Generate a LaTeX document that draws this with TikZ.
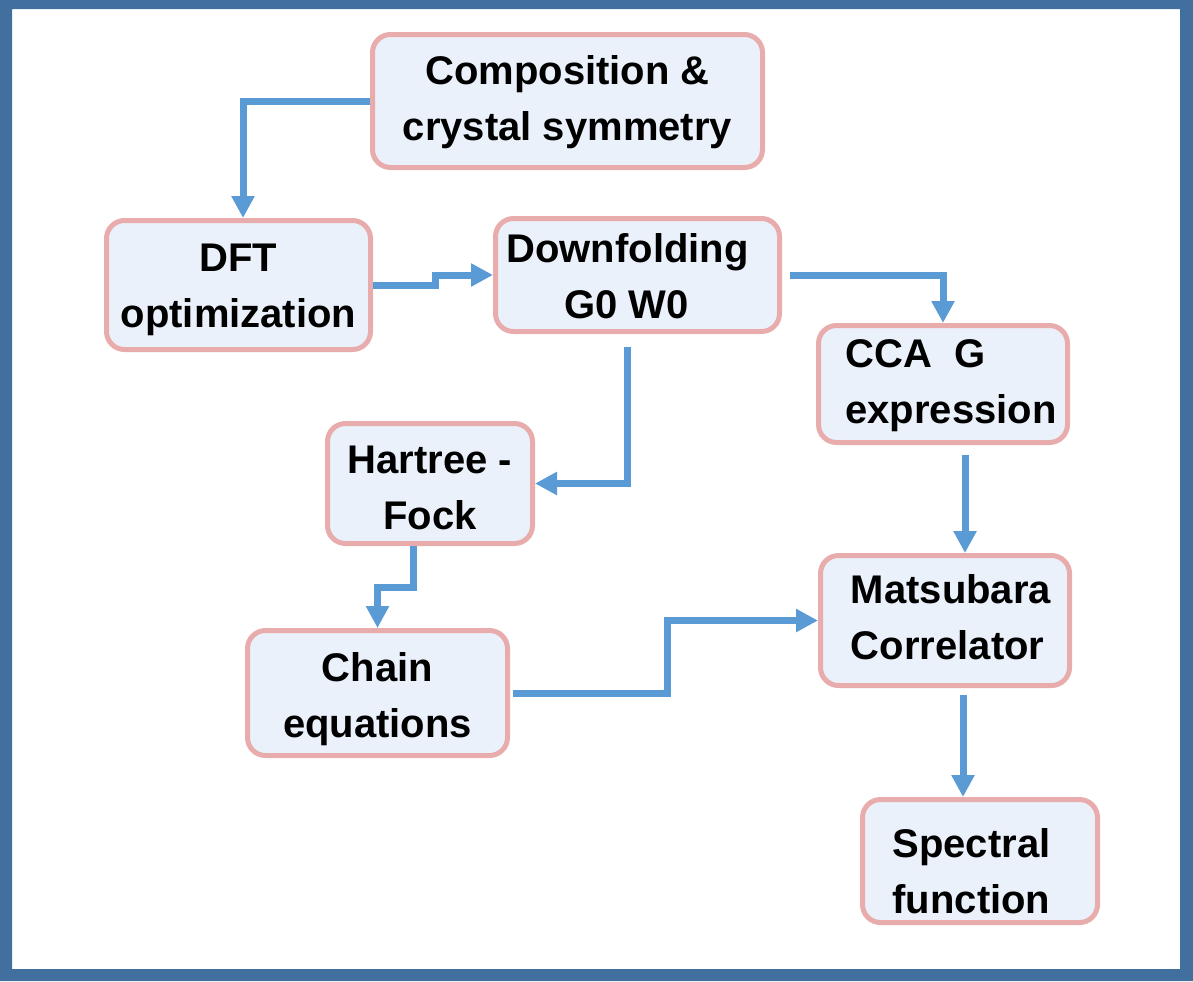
\documentclass[tikz,border=0pt]{standalone}
\usepackage{fontspec}
\setmainfont{Liberation Sans}
\usetikzlibrary{arrows.meta}
\definecolor{framecol}{RGB}{65,112,159}
\definecolor{flowcol}{RGB}{91,155,213}
\definecolor{boxfill}{RGB}{234,241,250}
\definecolor{boxline}{RGB}{232,172,172}
\begin{document}
\begin{tikzpicture}[x=0.5pt, y=-0.5pt,
    box/.style={draw=boxline, fill=boxfill, line width=2.5pt, rounded corners=9pt,
        font=\fontsize{20}{28}\selectfont\bfseries, align=center, inner sep=0pt},
    flow/.style={draw=flowcol, line width=3.5pt, -{Triangle[width=11pt,length=11pt]}}]
        \useasboundingbox (0,0) rectangle (1193,981);
        \fill[framecol, even odd rule] (0,0) rectangle (1193,981) (12,9) rectangle (1180,969);

        \node[box, minimum width=195pt, minimum height=66.5pt] (comp) at (567.5, 101)
            {\rule{0pt}{19.4pt}Composition \&\\crystal symmetry\rule[-8.4pt]{0pt}{8.4pt}};
        \node[box, minimum width=132pt, minimum height=64.5pt] (dft) at (238.5, 285)
            {\rule{0pt}{22.9pt}DFT\\optimization\rule[-8.4pt]{0pt}{8.4pt}};
        \node[box, minimum width=142pt, minimum height=56.5pt] (down) at (637.5, 275)
            {\rule{0pt}{20pt}\hspace*{-10pt}Downfolding\\\hspace*{-11pt}G0 W0\rule[-5pt]{0pt}{5pt}};
        \node[box, minimum width=124.5pt, minimum height=58.5pt, align=left] (cca) at (943, 384)
            {\rule{0pt}{19.9pt}\hspace*{8pt}CCA\ \ G\\\hspace*{8pt}expression\rule[-8.4pt]{0pt}{8.4pt}};
        \node[box, minimum width=102.5pt, minimum height=60pt] (hf) at (430, 483.5)
            {\rule{0pt}{24.5pt}Hartree -\\Fock\rule[-7pt]{0pt}{7pt}};
        \node[box, minimum width=130pt, minimum height=62.5pt] (chain) at (377.5, 693)
            {\rule{0pt}{24.4pt}Chain\\equations\rule[-8.4pt]{0pt}{8.4pt}};
        \node[box, minimum width=124.5pt, minimum height=65pt, align=left] (mats) at (945, 620.5)
            {\rule{0pt}{19.4pt}\hspace*{6pt}Matsubara\\\hspace*{6pt}Correlator\rule[-8.4pt]{0pt}{8.4pt}};
        \node[box, minimum width=117.5pt, minimum height=61.5pt] (spec) at (980, 861)
            {\rule{0pt}{27.25pt}\hspace*{-8.5pt}Spectral\\\hspace*{-8.5pt}function\rule[-3.25pt]{0pt}{3.25pt}};

        \draw[flow] (comp.west) -| ([xshift=2.25pt]dft.north);
        \draw[flow] (dft.east) -- ++(62,0) |- (down.west);
        \draw[flow] ([xshift=4pt]down.east) -| (cca.north);
        \draw[flow] ([xshift=-5.25pt,yshift=-6.5pt]down.south) |- (hf.east);
        \draw[flow] ([xshift=-8.5pt]hf.south) -- ++(0,41) -| (chain.north);
        \draw[flow] ([xshift=1.5pt]chain.east) -- ++(154,0) |- (mats.west);
        \draw[flow] ([xshift=11pt,yshift=-5pt]cca.south) coordinate (ccab) -- (ccab |- mats.north);
        \draw[flow] ([xshift=9pt,yshift=-3.5pt]mats.south) coordinate (matsb) -- (matsb |- spec.north);

    \end{tikzpicture}
\end{document}
